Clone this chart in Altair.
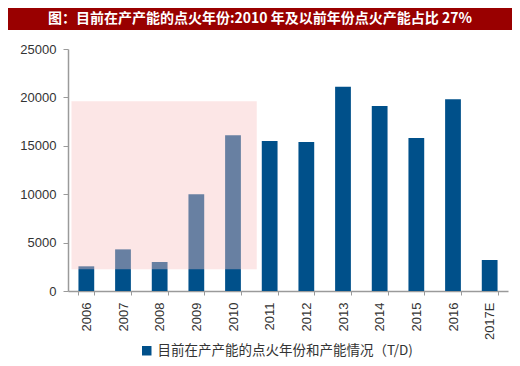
import altair as alt
import pandas as pd

years = ["2006", "2007", "2008", "2009", "2010", "2011", "2012",
         "2013", "2014", "2015", "2016", "2017E"]
capacity = [2550, 4300, 3000, 10000, 16100, 15500, 15400,
            21100, 19100, 15800, 19800, 3200]
series_name = "目前在产产能的点火年份和产能情况（T/D)"
title_text = "图：目前在产产能的点火年份:2010 年及以前年份点火产能占比 27%"

hl_start = ["2006"]
hl_end = ["2011"]
hl_low = [2250]
hl_high = [19600]

df = pd.DataFrame({"year": years, "cap": capacity, "series": [series_name] * len(years)})
hl = pd.DataFrame({"s": hl_start, "e": hl_end, "lo": hl_low, "hi": hl_high})
tdf = pd.DataFrame({"t": [title_text]})

FONT = "Liberation Sans"
CJK = "Noto Sans CJK SC"

xscale = alt.Scale(domain=years, paddingInner=0.57, paddingOuter=0.285)
yscale = alt.Scale(domain=[0, 25000])

bars = alt.Chart(df).mark_bar(color="#00508a").encode(
    x=alt.X("year:N", scale=xscale, sort=years,
            axis=alt.Axis(title=None, labelAngle=-90, labelFont=FONT, labelFontSize=13,
                          labelColor="#333333", domainColor="#9a9a9a", tickColor="#9a9a9a",
                          tickSize=4, labelPadding=7, tickBand="extent", domainWidth=1.5,
                          labelBaseline="middle", labelAlign="right")),
    y=alt.Y("cap:Q", scale=yscale,
            axis=alt.Axis(title=None, values=[0, 5000, 10000, 15000, 20000, 25000],
                          format="d", grid=False, labelFont=FONT, labelFontSize=13,
                          labelColor="#333333", domainColor="#9a9a9a", tickColor="#9a9a9a",
                          tickSize=5, labelPadding=7, minExtent=60, domainWidth=1.5)),
    color=alt.Color("series:N", scale=alt.Scale(range=["#00508a"]),
                    legend=alt.Legend(title=None, orient="none", legendX=72, legendY=295,
                                      labelFont=CJK, labelFontSize=13.5, labelColor="#333333",
                                      labelLimit=0, symbolType="square", symbolSize=90,
                                      symbolStrokeWidth=0)),
)

highlight = alt.Chart(hl).mark_rect(color="#f8c4c4", opacity=0.42,
                                    xOffset=-7, x2Offset=-5).encode(
    x=alt.X("s:N", scale=xscale, bandPosition=0),
    x2=alt.X2("e:N", bandPosition=0),
    y=alt.Y("lo:Q", scale=yscale),
    y2="hi:Q",
)

# decorative title banner above the plot
banner = alt.Chart(tdf).mark_rect(color="#990000").encode(
    x=alt.value(-60), x2=alt.value(444), y=alt.value(-41), y2=alt.value(-19)
)
banner_text = alt.Chart(tdf).mark_text(color="white", font=CJK, fontSize=14,
                                       fontWeight="bold", align="center",
                                       baseline="middle").encode(
    text="t:N", x=alt.value(192), y=alt.value(-30)
)

chart = alt.layer(banner, banner_text, bars, highlight).properties(
    width=440, height=242, padding=0, background="white"
).configure_view(stroke=None)

chart.save("out.html", embed_options={"renderer": "svg", "actions": False})
